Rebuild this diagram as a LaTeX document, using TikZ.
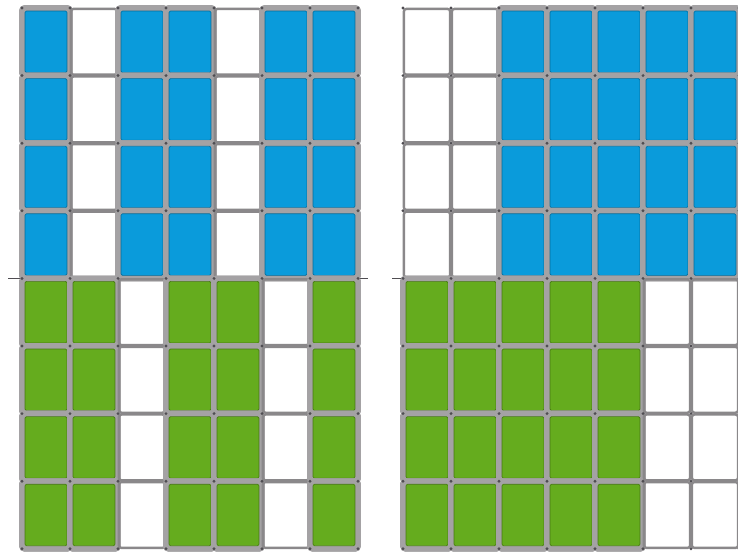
\documentclass[tikz,border=0pt]{standalone}
\usetikzlibrary{calc}
\definecolor{cellblue}{HTML}{0A9BDB}
\definecolor{cellgreen}{HTML}{65AC1E}
\definecolor{framegray}{HTML}{A4A2A4}
\definecolor{edgegray}{HTML}{8A888A}
\definecolor{dotgray}{HTML}{4F4D52}

\tikzset{
  fullcell/.style={draw=framegray,line width=5.8pt,rounded corners=3pt},
  inneredge/.style={line width=0.6pt,rounded corners=1.5pt},
  emptycell/.style={draw=edgegray,line width=2.4pt,rounded corners=2.5pt},
  griddot/.style={fill=dotgray},
}
\newcommand{\cw}{48}
\newcommand{\ch}{67.6}

\begin{document}
\begin{tikzpicture}[x=1pt,y=-1pt]
  \useasboundingbox (0,0) rectangle (738,553);
  \fill[white] (0,0) rectangle (738,553);

  % divider between upper and lower halves
  \draw[dotgray,line width=0.9pt] (8,278.4) -- (368,278.4);
  \draw[dotgray,line width=0.9pt] (392,278.4) -- (738,278.4);

  % both grids: origin / column states (upper, lower)
  \foreach \gx/\cols in {22/{0/1/1,1/0/1,2/1/0,3/1/1,4/0/1,5/1/0,6/1/1},
                         403/{0/0/1,1/0/1,2/1/1,3/1/1,4/1/1,5/1/0,6/1/0}}{
    \foreach \c/\up/\lo in \cols {
      \foreach \r in {0,...,7}{
        \pgfmathtruncatemacro{\on}{\r<4 ? \up : \lo}
        \ifnum\r<4 \def\tint{cellblue}\else\def\tint{cellgreen}\fi
        \coordinate (nw) at (\gx+\c*\cw,8+\r*\ch);
        \coordinate (se) at (\gx+\c*\cw+\cw,8+\r*\ch+\ch);
        \ifnum\on=1
          \fill[\tint,fullcell] (nw) rectangle (se);
          \draw[fullcell] (nw) rectangle (se);
          \draw[inneredge,draw=\tint!70!black] ($(nw)+(3,3)$) rectangle ($(se)+(-3,-3)$);
        \else
          \draw[emptycell] ($(nw)+(0.9,0.9)$) rectangle ($(se)+(-0.9,-0.9)$);
        \fi
      }
    }
    % small dots at the crossings
    \foreach \i in {0,...,7}
      \foreach \j in {0,...,8}
        \fill[griddot] (\gx+\i*\cw,8+\j*\ch) circle (1.6);
  }
\end{tikzpicture}
\end{document}
